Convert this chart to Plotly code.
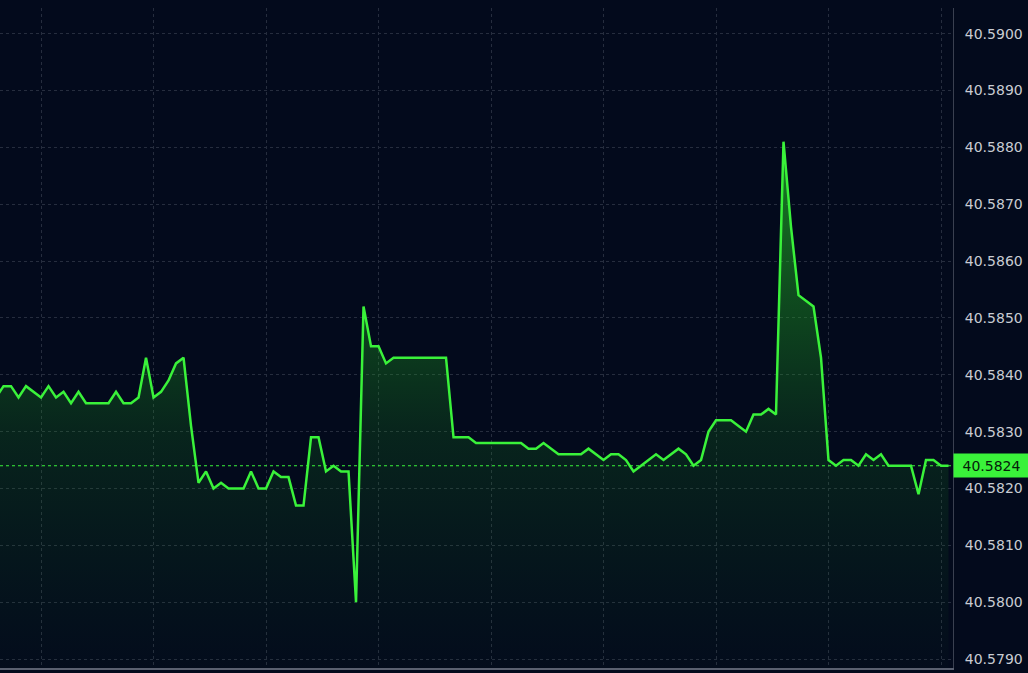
import plotly.graph_objects as go

# tick index (one sample per step) and price
idx = list(range(-1, 127))
price = [
    40.5836,
    40.5838, 40.5838, 40.5836, 40.5838, 40.5837, 40.5836, 40.5838, 40.5836, 40.5837, 40.5835,
    40.5837, 40.5835, 40.5835, 40.5835, 40.5835, 40.5837, 40.5835, 40.5835, 40.5836, 40.5843,
    40.5836, 40.5837, 40.5839, 40.5842, 40.5843, 40.5831, 40.5821, 40.5823, 40.5820, 40.5821,
    40.5820, 40.5820, 40.5820, 40.5823, 40.5820, 40.5820, 40.5823, 40.5822, 40.5822, 40.5817,
    40.5817, 40.5829, 40.5829, 40.5823, 40.5824, 40.5823, 40.5823, 40.5800, 40.5852, 40.5845,
    40.5845, 40.5842, 40.5843, 40.5843, 40.5843, 40.5843, 40.5843, 40.5843, 40.5843, 40.5843,
    40.5829, 40.5829, 40.5829, 40.5828, 40.5828, 40.5828, 40.5828, 40.5828, 40.5828, 40.5828,
    40.5827, 40.5827, 40.5828, 40.5827, 40.5826, 40.5826, 40.5826, 40.5826, 40.5827, 40.5826,
    40.5825, 40.5826, 40.5826, 40.5825, 40.5823, 40.5824, 40.5825, 40.5826, 40.5825, 40.5826,
    40.5827, 40.5826, 40.5824, 40.5825, 40.5830, 40.5832, 40.5832, 40.5832, 40.5831, 40.5830,
    40.5833, 40.5833, 40.5834, 40.5833, 40.5881, 40.5866, 40.5854, 40.5853, 40.5852, 40.5843,
    40.5825, 40.5824, 40.5825, 40.5825, 40.5824, 40.5826, 40.5825, 40.5826, 40.5824, 40.5824,
    40.5824, 40.5824, 40.5819, 40.5825, 40.5825, 40.5824, 40.5824,
]
last_price = 40.5824

y_lo, y_hi = 40.578842, 40.590452
bg = "#030a1c"
green = "#3af23a"

fig = go.Figure()

# invisible floor so the gradient fill spans only the visible area
fig.add_trace(go.Scatter(x=[idx[0], idx[-1]], y=[y_lo, y_lo], mode="lines",
                         line=dict(width=0), hoverinfo="skip", showlegend=False))
fig.add_trace(go.Scatter(
    x=idx, y=price, mode="lines", fill="tonexty",
    line=dict(color=green, width=2.5),
    fillgradient=dict(type="vertical",
                      colorscale=[[0, "rgba(20,120,30,0.02)"],
                                  [0.45, "rgba(30,160,30,0.18)"],
                                  [1, "rgba(40,210,40,0.6)"]]),
    showlegend=False,
))

fig.add_shape(type="line", xref="paper", x0=0, x1=1, yref="y", y0=last_price, y1=last_price,
              line=dict(color=green, width=1.2, dash="dot"))
fig.add_annotation(xref="paper", x=1, xanchor="left", yref="y", y=last_price,
                   text=f"{last_price:.4f}", showarrow=False,
                   bgcolor=green, font=dict(color="#06200a", size=14, family="DejaVu Sans"),
                   width=71, height=19, align="center", borderpad=2)

fig.update_layout(
    width=1028, height=673,
    paper_bgcolor=bg, plot_bgcolor=bg,
    margin=dict(l=0, r=75, t=8, b=5, autoexpand=False),
    font=dict(family="DejaVu Sans", color="#c9ccd2", size=14),
    xaxis=dict(range=[-0.47, 126.6], showticklabels=False, tick0=5, dtick=15,
               showgrid=True, gridcolor="#262d3e", griddash="dot", gridwidth=1,
               zeroline=False, showline=True, linecolor="#5a6070", linewidth=1.5, mirror=False),
    yaxis=dict(range=[y_lo, y_hi], side="right", tick0=40.5790, dtick=0.001, tickformat=".4f",
               showgrid=True, gridcolor="#262d3e", griddash="dot", gridwidth=1,
               zeroline=False, showline=True, linecolor="#3a4050", linewidth=1,
               ticks="", ticklabelstandoff=8),
)

fig.write_html("out.html", config={"displayModeBar": False},
               post_script="document.body.style.margin='0';document.body.style.background='#030a1c';")
